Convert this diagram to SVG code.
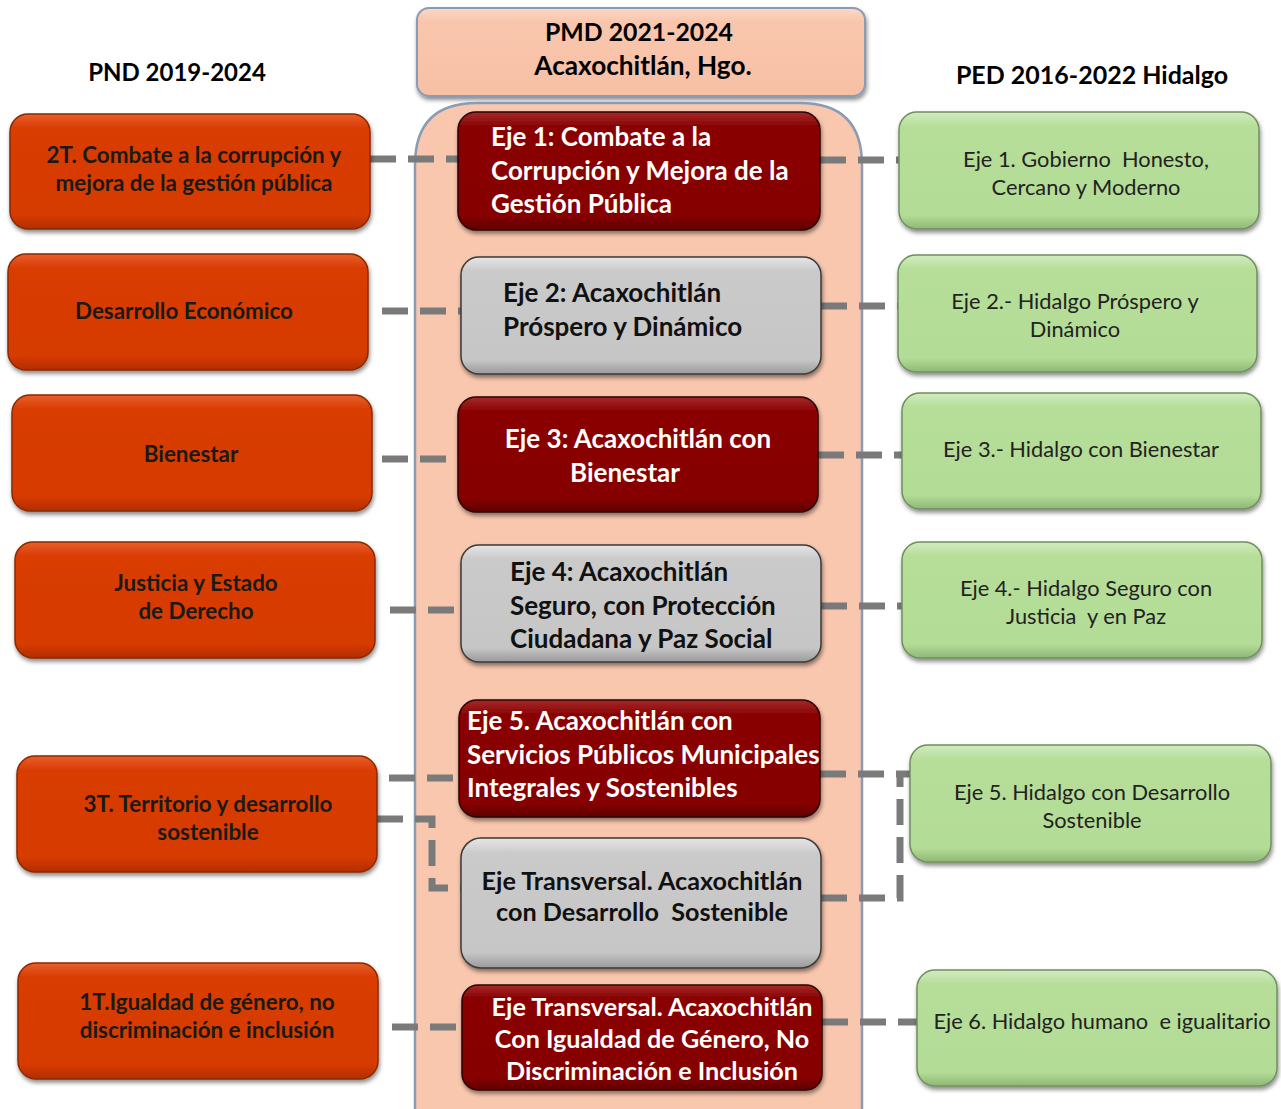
<svg xmlns="http://www.w3.org/2000/svg" width="1281" height="1109" viewBox="0 0 1281 1109">
<defs>
<linearGradient id="gOr" x1="0" y1="0" x2="0" y2="1"><stop offset="0" stop-color="#e8602a"/><stop offset="0.12" stop-color="#d93c04"/><stop offset="0.88" stop-color="#d63a03"/><stop offset="1" stop-color="#b02e02"/></linearGradient>
<linearGradient id="gRd" x1="0" y1="0" x2="0" y2="1"><stop offset="0" stop-color="#a52a2a"/><stop offset="0.12" stop-color="#8a0303"/><stop offset="0.88" stop-color="#860303"/><stop offset="1" stop-color="#5e0000"/></linearGradient>
<linearGradient id="gGy" x1="0" y1="0" x2="0" y2="1"><stop offset="0" stop-color="#e6e6e6"/><stop offset="0.12" stop-color="#cacaca"/><stop offset="0.88" stop-color="#c6c6c6"/><stop offset="1" stop-color="#9a9a9a"/></linearGradient>
<linearGradient id="gGr" x1="0" y1="0" x2="0" y2="1"><stop offset="0" stop-color="#d2ecbf"/><stop offset="0.12" stop-color="#b6de99"/><stop offset="0.88" stop-color="#b3dc96"/><stop offset="1" stop-color="#8fb877"/></linearGradient>
<linearGradient id="gPk" x1="0" y1="0" x2="0" y2="1"><stop offset="0" stop-color="#fbd8c6"/><stop offset="0.15" stop-color="#f9c6ad"/><stop offset="1" stop-color="#f7c0a5"/></linearGradient>
<filter id="sh" x="-10%" y="-10%" width="120%" height="130%"><feDropShadow dx="1" dy="3" stdDeviation="2" flood-color="#000" flood-opacity="0.45"/></filter>
<style>
.t{font-family:Lato,"Open Sans","Liberation Sans",sans-serif;white-space:pre;}
.hd{font-weight:bold;font-size:24px;fill:#000;text-anchor:middle;}
.ln{font-weight:bold;font-size:22.4px;fill:#1a1a1a;text-anchor:middle;}
.cw{font-weight:bold;font-size:26px;fill:#fff;}
.ck{font-weight:bold;font-size:26px;fill:#111;}
.tv{font-size:25.2px;text-anchor:middle;}
.rn{font-size:21.8px;fill:#222;text-anchor:middle;}
.or{fill:url(#gOr);stroke:#8a2a05;stroke-width:1.5;filter:url(#sh);}
.rd{fill:url(#gRd);stroke:#2a0000;stroke-width:1.5;filter:url(#sh);}
.gy{fill:url(#gGy);stroke:#3a3a3a;stroke-width:1.5;filter:url(#sh);}
.gr{fill:url(#gGr);stroke:#6f8f5f;stroke-width:1.5;filter:url(#sh);}
.cn{fill:none;stroke:#7a7a7a;stroke-width:7;stroke-dasharray:26 12;}
</style>
</defs>
<rect width="1281" height="1109" fill="#fff"/>

<text class="t hd" x="177" y="81">PND 2019-2024</text>
<text class="t hd" x="1092" y="84" style="font-size:25px">PED 2016-2022 Hidalgo</text>

<g id="pmd-header">
<rect x="417" y="8" width="448" height="88" rx="12" fill="url(#gPk)" stroke="#8a9bb5" stroke-width="2" filter="url(#sh)"/>
<text class="t hd" x="639" y="41" style="font-size:24.8px">PMD 2021-2024</text>
<text class="t hd" x="643" y="75" style="font-size:26.2px">Acaxochitlán, Hgo.</text>
</g>

<g id="pmd-container">
<path d="M415,1109 L415,165 Q415,103 477,103 L800,103 Q862,103 862,165 L862,1109" fill="#f9c7ae" stroke="#8a9bb5" stroke-width="2.5"/>
</g>

<g id="connectors">
<line class="cn" x1="370" y1="159" x2="458" y2="159"/>
<line class="cn" x1="820" y1="160" x2="899" y2="160"/>
<line class="cn" x1="382" y1="311" x2="461" y2="311"/>
<line class="cn" x1="821" y1="306" x2="898" y2="306"/>
<line class="cn" x1="382" y1="459" x2="458" y2="459"/>
<line class="cn" x1="818" y1="455" x2="902" y2="455"/>
<line class="cn" x1="390" y1="610" x2="461" y2="610"/>
<line class="cn" x1="821" y1="606" x2="902" y2="606"/>
<line class="cn" x1="389" y1="778" x2="459" y2="778"/>
<polyline class="cn" points="377,819 432,819 432,888 461,888"/>
<line class="cn" x1="820" y1="774" x2="910" y2="774"/>
<polyline class="cn" points="821,898 900,898 900,774"/>
<line class="cn" x1="392" y1="1027" x2="462" y2="1027"/>
<line class="cn" x1="822" y1="1022" x2="917" y2="1022"/>
</g>

<g id="pnd-1"><rect class="or" x="10" y="114" width="360" height="115" rx="18"/>
<text class="t ln" x="194" y="163">2T. Combate a la corrupción y</text>
<text class="t ln" x="194" y="191">mejora de la gestión pública</text></g>
<g id="pnd-2"><rect class="or" x="8" y="254" width="360" height="116" rx="18"/>
<text class="t ln" x="184" y="319">Desarrollo Económico</text></g>
<g id="pnd-3"><rect class="or" x="12" y="395" width="360" height="116" rx="18"/>
<text class="t ln" x="191" y="462">Bienestar</text></g>
<g id="pnd-4"><rect class="or" x="15" y="542" width="360" height="116" rx="18"/>
<text class="t ln" x="196" y="591">Justicia y Estado</text>
<text class="t ln" x="196" y="619">de Derecho</text></g>
<g id="pnd-5"><rect class="or" x="17" y="756" width="360" height="116" rx="18"/>
<text class="t ln" x="208" y="812">3T. Territorio y desarrollo</text>
<text class="t ln" x="208" y="840">sostenible</text></g>
<g id="pnd-6"><rect class="or" x="18" y="963" width="360" height="116" rx="18"/>
<text class="t ln" x="207" y="1010">1T.Igualdad de género, no</text>
<text class="t ln" x="207" y="1038">discriminación e inclusión</text></g>

<g id="pmd-eje1"><rect class="rd" x="458" y="112" width="362" height="118" rx="18"/>
<text class="t cw" x="491" y="146">Eje 1: Combate a la</text>
<text class="t cw" x="491" y="180">Corrupción y Mejora de la</text>
<text class="t cw" x="491" y="213">Gestión Pública</text></g>
<g id="pmd-eje2"><rect class="gy" x="461" y="257" width="360" height="117" rx="18"/>
<text class="t ck" x="503" y="302">Eje 2: Acaxochitlán</text>
<text class="t ck" x="503" y="336">Próspero y Dinámico</text></g>
<g id="pmd-eje3"><rect class="rd" x="458" y="397" width="360" height="115" rx="18"/>
<text class="t cw" x="638" y="448" text-anchor="middle">Eje 3: Acaxochitlán con</text>
<text class="t cw" x="625" y="482" text-anchor="middle">Bienestar</text></g>
<g id="pmd-eje4"><rect class="gy" x="461" y="545" width="360" height="117" rx="18"/>
<text class="t ck" x="510" y="581">Eje 4: Acaxochitlán</text>
<text class="t ck" x="510" y="615">Seguro, con Protección</text>
<text class="t ck" x="510" y="648">Ciudadana y Paz Social</text></g>
<g id="pmd-eje5"><rect class="rd" x="459" y="700" width="361" height="117" rx="18"/>
<text class="t cw" x="467" y="730">Eje 5. Acaxochitlán con</text>
<text class="t cw" x="467" y="764">Servicios Públicos Municipales</text>
<text class="t cw" x="467" y="797">Integrales y Sostenibles</text></g>
<g id="pmd-transversal-1"><rect class="gy" x="461" y="838" width="360" height="130" rx="20"/>
<text class="t ck tv" x="642" y="890">Eje Transversal. Acaxochitlán</text>
<text class="t ck tv" x="642" y="921">con Desarrollo  Sostenible</text></g>
<g id="pmd-transversal-2"><rect class="rd" x="462" y="985" width="360" height="105" rx="16"/>
<text class="t cw tv" x="652" y="1016">Eje Transversal. Acaxochitlán</text>
<text class="t cw tv" x="652" y="1048">Con Igualdad de Género, No</text>
<text class="t cw tv" x="652" y="1080">Discriminación e Inclusión</text></g>

<g id="ped-1"><rect class="gr" x="899" y="112" width="360" height="117" rx="18"/>
<text class="t rn" x="1086" y="167">Eje 1. Gobierno  Honesto,</text>
<text class="t rn" x="1086" y="195">Cercano y Moderno</text></g>
<g id="ped-2"><rect class="gr" x="898" y="255" width="359" height="117" rx="18"/>
<text class="t rn" x="1075" y="309">Eje 2.- Hidalgo Próspero y</text>
<text class="t rn" x="1075" y="337">Dinámico</text></g>
<g id="ped-3"><rect class="gr" x="902" y="393" width="359" height="116" rx="18"/>
<text class="t rn" x="1081" y="457">Eje 3.- Hidalgo con Bienestar</text></g>
<g id="ped-4"><rect class="gr" x="902" y="542" width="360" height="116" rx="18"/>
<text class="t rn" x="1086" y="596">Eje 4.- Hidalgo Seguro con</text>
<text class="t rn" x="1086" y="624">Justicia  y en Paz</text></g>
<g id="ped-5"><rect class="gr" x="910" y="745" width="361" height="117" rx="18"/>
<text class="t rn" x="1092" y="800">Eje 5. Hidalgo con Desarrollo</text>
<text class="t rn" x="1092" y="828">Sostenible</text></g>
<g id="ped-6"><rect class="gr" x="917" y="970" width="360" height="116" rx="18"/>
<text class="t rn" x="1102" y="1029">Eje 6. Hidalgo humano  e igualitario</text></g>
</svg>
